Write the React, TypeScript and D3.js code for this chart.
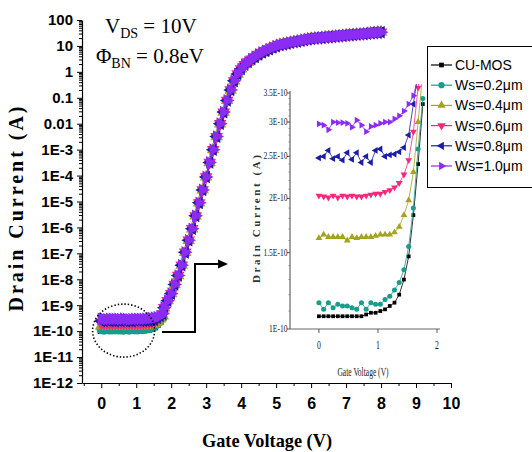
import React, { useEffect, useRef } from 'react';
import * as d3 from 'd3';

// low-voltage sweep (inset + flat part of the main curve), V
const insetVoltage = [0, 0.08, 0.16, 0.24, 0.32, 0.4, 0.48, 0.56, 0.64, 0.72, 0.8, 0.88, 0.96, 1.04, 1.12, 1.2, 1.28, 1.36, 1.44, 1.52, 1.6, 1.68, 1.76];

// leakage currents, in units of 1E-10 A
const cuMos = [1.07, 1.07, 1.07, 1.07, 1.07, 1.07, 1.07, 1.07, 1.07, 1.07, 1.08, 1.09, 1.09, 1.1, 1.11, 1.13, 1.15, 1.2, 1.3, 1.47, 1.83, 2.4, 3.3];
const ws02 = [1.15, 1.11, 1.15, 1.12, 1.14, 1.13, 1.13, 1.12, 1.11, 1.15, 1.11, 1.15, 1.14, 1.14, 1.17, 1.19, 1.23, 1.28, 1.37, 1.55, 1.9, 2.6, 3.4];
const ws04 = [1.62, 1.65, 1.63, 1.63, 1.63, 1.63, 1.6, 1.63, 1.62, 1.63, 1.63, 1.63, 1.64, 1.65, 1.65, 1.65, 1.67, 1.72, 1.83, 1.98, 2.3, 3.0, 3.9];
const ws06 = [2.03, 2.02, 2.01, 2.03, 2.01, 2.03, 2.02, 2.03, 2.02, 2.02, 2.03, 2.04, 2.05, 2.05, 2.07, 2.09, 2.12, 2.17, 2.27, 2.45, 2.85, 3.6, 4.6];
const ws08 = [2.48, 2.5, 2.58, 2.47, 2.5, 2.45, 2.55, 2.46, 2.55, 2.42, 2.5, 2.42, 2.58, 2.6, 2.5, 2.52, 2.53, 2.56, 2.62, 2.8, 3.3, 3.9, 4.6];
const ws10 = [2.97, 2.95, 2.88, 3.0, 2.99, 2.99, 2.98, 2.92, 3.03, 2.95, 2.85, 2.93, 2.95, 2.98, 3.0, 3.0, 3.05, 3.1, 3.18, 3.3, 3.45, 3.8, 4.8];

// above threshold all devices share the same curve (1.8 V .. 8.0 V, 0.1 V step)
const riseVoltage = d3.range(18, 81).map(d => d / 10);
const riseCurrent = [
  8e-10, 1.5e-9, 2.8e-9, 6.3e-9, 1.4e-8, 3.5e-8, 1.1e-7, 3.2e-7, 8.9e-7, 2.8e-6,
  8.9e-6, 2.8e-5, 8.9e-5, 3.2e-4, 1e-3, 3.2e-3, 1e-2, 2.8e-2, 7.9e-2, 0.2,
  0.45, 0.83, 1.3, 1.9, 2.4, 3.1, 3.8, 4.7, 5.6, 6.5,
  7.6, 8.7, 9.8, 11, 11.7, 12.6, 13.5, 14.5, 15.1, 16.2,
  17, 18.2, 19, 20, 20.4, 20.9, 21.9, 22.4, 22.9, 24,
  24.5, 25.1, 26.3, 26.9, 27.5, 28.2, 28.8, 29.5, 30.2, 31.6,
  32.4, 33.1, 33.9,
];

const seriesNames = ['CU-MOS', 'Ws=0.2μm', 'Ws=0.4μm', 'Ws=0.6μm', 'Ws=0.8μm', 'Ws=1.0μm'];
const seriesLeak = [cuMos, ws02, ws04, ws06, ws08, ws10];
const seriesColors = ['#000000', '#189c8c', '#a3a31c', '#f5287c', '#1c1ca6', '#8b2cf5'];
const seriesSymbols = [d3.symbolSquare, d3.symbolCircle, d3.symbolTriangle, d3.symbolTriangle, d3.symbolTriangle, d3.symbolTriangle];
const seriesRotate = [0, 0, 0, 180, -90, 90];

const yTicks = [1e2, 1e1, 1, 1e-1, 1e-2, 1e-3, 1e-4, 1e-5, 1e-6, 1e-7, 1e-8, 1e-9, 1e-10, 1e-11, 1e-12];
const yTickLabels = ['100', '10', '1', '0.1', '0.01', '1E-3', '1E-4', '1E-5', '1E-6', '1E-7', '1E-8', '1E-9', '1E-10', '1E-11', '1E-12'];
const xTicks = [0, 1, 2, 3, 4, 5, 6, 7, 8, 9, 10];

const insetYTicks = [1e-10, 1.5e-10, 2e-10, 2.5e-10, 3e-10, 3.5e-10];
const insetYLabels = ['1E-10', '1.5E-10', '2E-10', '2.5E-10', '3E-10', '3.5E-10'];
const insetXTicks = [0, 1, 2];

function App() {
  const ref = useRef<SVGSVGElement>(null);

  useEffect(() => {
    drawChart();
  }, []);

  function drawChart() {
    const svg = d3.select(ref.current);
    svg.selectAll('*').remove();

    const x = d3.scaleLinear().domain([-0.55, 10]).range([82, 451]);
    const y = d3.scaleLog().domain([1e-12, 100]).range([383, 20]);

    const sym = (i: number, size: number) => d3.symbol(seriesSymbols[i], size)();

    // ---- main axes
    const minorY: number[] = [];
    for (let e = -12; e < 2; e++) for (let m = 2; m <= 9; m++) minorY.push(m * Math.pow(10, e));

    const yAx = svg.append('g').attr('transform', 'translate(82,0)');
    yAx.call(d3.axisLeft(y).tickValues(minorY).tickFormat(() => '').tickSize(3).tickSizeOuter(0));
    yAx.call(g => g.select('.domain').remove());
    const yAx2 = svg.append('g').attr('transform', 'translate(82,0)');
    yAx2.call(d3.axisLeft(y).tickValues(yTicks).tickFormat((d, i) => yTickLabels[i]).tickSize(5).tickSizeOuter(0).tickPadding(4));
    yAx2.selectAll('text').attr('font-family', 'Liberation Sans, Arial').attr('font-weight', 'bold').attr('font-size', 15).attr('fill', '#000');
    svg.selectAll('.tick line').attr('stroke', '#000');

    const xAx = svg.append('g').attr('transform', 'translate(0,383)');
    xAx.call(d3.axisBottom(x).tickValues(d3.range(-0.5, 10, 1)).tickFormat(() => '').tickSize(3).tickSizeOuter(0));
    xAx.call(g => g.select('.domain').remove());
    const xAx2 = svg.append('g').attr('transform', 'translate(0,383)');
    xAx2.call(d3.axisBottom(x).tickValues(xTicks).tickFormat(d3.format('d')).tickSize(5).tickSizeOuter(0).tickPadding(10));
    xAx2.selectAll('text').attr('font-family', 'Liberation Sans, Arial').attr('font-weight', 'bold').attr('font-size', 16).attr('fill', '#000');
    svg.selectAll('.domain').attr('stroke', '#000').attr('stroke-width', 1.2);

    // axis titles
    svg.append('text')
      .attr('transform', 'translate(23,209) rotate(-90)')
      .attr('text-anchor', 'middle')
      .attr('font-family', 'Liberation Serif, Times New Roman')
      .attr('font-weight', 'bold')
      .attr('font-size', 20)
      .attr('textLength', 205)
      .attr('lengthAdjust', 'spacing')
      .text('Drain Current (A)');
    svg.append('text')
      .attr('x', 267)
      .attr('y', 447)
      .attr('text-anchor', 'middle')
      .attr('font-family', 'Liberation Serif, Times New Roman')
      .attr('font-weight', 'bold')
      .attr('font-size', 19)
      .attr('textLength', 130)
      .attr('lengthAdjust', 'spacingAndGlyphs')
      .text('Gate Voltage (V)');

    // V_DS and barrier height
    const t1 = svg.append('text').attr('x', 105).attr('y', 33)
      .attr('font-family', 'Liberation Serif, Times New Roman').attr('font-size', 21);
    t1.append('tspan').text('V');
    t1.append('tspan').attr('font-size', 14).attr('dy', 5).text('DS');
    t1.append('tspan').attr('dy', -5).text(' = 10V');
    const t2 = svg.append('text').attr('x', 96).attr('y', 63)
      .attr('font-family', 'Liberation Serif, Times New Roman').attr('font-size', 21);
    t2.append('tspan').text('Φ');
    t2.append('tspan').attr('font-size', 14).attr('dy', 5).text('BN');
    t2.append('tspan').attr('dy', -5).text(' = 0.8eV');

    // ---- main series
    const mainData = seriesLeak.map(leak =>
      insetVoltage.map((v, i) => ({ v, c: leak[i] * 1e-10 }))
        .concat(riseVoltage.map((v, i) => ({ v, c: riseCurrent[i] })))
    );
    const mainLine = d3.line<{ v: number; c: number }>().x(d => x(d.v)).y(d => y(d.c));
    mainData.forEach((pts, s) => {
      svg.append('path').attr('d', mainLine(pts)).attr('fill', 'none')
        .attr('stroke', seriesColors[s]).attr('stroke-width', 1.5);
      svg.append('g').selectAll('path').data(pts).enter().append('path')
        .attr('d', sym(s, s === 0 ? 50 : 70))
        .attr('transform', d => `translate(${x(d.v)},${y(d.c)}) rotate(${seriesRotate[s]})`)
        .attr('fill', seriesColors[s]);
    });

    // callout ellipse + arrow
    svg.append('ellipse')
      .attr('cx', x(0.64)).attr('cy', y(1.05e-10)).attr('rx', 31).attr('ry', 26.5)
      .attr('fill', 'none').attr('stroke', '#000').attr('stroke-width', 1.6)
      .attr('stroke-dasharray', '1.4,2');
    svg.append('path')
      .attr('d', 'M162,332 H195 V264 H219')
      .attr('fill', 'none').attr('stroke', '#000').attr('stroke-width', 2);
    svg.append('path').attr('d', 'M218,259.5 L228,264 L218,268.5 Z').attr('fill', '#000');

    // ---- inset
    const ix = d3.scaleLinear().domain([-0.49, 2]).range([290, 437]);
    const iy = d3.scaleLog().domain([1e-10, 3.5e-10]).range([329, 93]);

    const defs = svg.append('defs');
    defs.append('clipPath').attr('id', 'insetClip').append('rect')
      .attr('x', 290).attr('y', 84).attr('width', 150).attr('height', 246);

    const iMinor: number[] = d3.range(11, 35).map(d => d * 1e-11);
    svg.append('g').selectAll('line').data(iMinor).enter().append('line')
      .attr('x1', 288.5).attr('x2', 290).attr('y1', d => iy(d)).attr('y2', d => iy(d))
      .attr('stroke', '#777').attr('stroke-width', 0.8);
    svg.append('g').selectAll('line').data(insetYTicks).enter().append('line')
      .attr('x1', 287).attr('x2', 290).attr('y1', d => iy(d)).attr('y2', d => iy(d))
      .attr('stroke', '#555').attr('stroke-width', 1);
    svg.append('line').attr('x1', 290).attr('x2', 290).attr('y1', 91).attr('y2', 329)
      .attr('stroke', '#666').attr('stroke-width', 1.2);
    svg.append('line').attr('x1', 290).attr('x2', 440).attr('y1', 329).attr('y2', 329)
      .attr('stroke', '#666').attr('stroke-width', 1.2);
    svg.append('g').selectAll('line').data(insetXTicks).enter().append('line')
      .attr('x1', d => ix(d)).attr('x2', d => ix(d)).attr('y1', 329).attr('y2', 333)
      .attr('stroke', '#555').attr('stroke-width', 1);

    insetYTicks.forEach((v, i) => {
      svg.append('g').attr('transform', `translate(287.5,${iy(v) + 3}) scale(0.72,1)`)
        .append('text').attr('text-anchor', 'end')
        .attr('font-family', 'Liberation Serif, Times New Roman').attr('font-size', 10.5)
        .attr('fill', '#222').text(insetYLabels[i]);
    });
    insetXTicks.forEach(v => {
      svg.append('g').attr('transform', `translate(${ix(v)},349) scale(0.6,1)`)
        .append('text').attr('text-anchor', 'middle')
        .attr('font-family', 'Liberation Serif, Times New Roman').attr('font-size', 13)
        .attr('fill', '#222').text(String(v));
    });
    svg.append('g').attr('transform', 'translate(363,376) scale(0.58,1)')
      .append('text').attr('text-anchor', 'middle')
      .attr('font-family', 'Liberation Serif, Times New Roman').attr('font-size', 13)
      .attr('fill', '#222').text('Gate Voltage (V)');
    svg.append('text')
      .attr('transform', 'translate(260,219) rotate(-90)')
      .attr('text-anchor', 'middle')
      .attr('font-family', 'Liberation Serif, Times New Roman')
      .attr('font-weight', 'bold').attr('font-size', 11).attr('fill', '#333')
      .attr('textLength', 128).attr('lengthAdjust', 'spacing')
      .text('Drain Current (A)');

    const inset = svg.append('g').attr('clip-path', 'url(#insetClip)');
    const insetLine = d3.line<number>().x((d, i) => ix(insetVoltage[i])).y(d => iy(d * 1e-10));
    seriesLeak.forEach((leak, s) => {
      inset.append('path').attr('d', insetLine(leak)).attr('fill', 'none')
        .attr('stroke', seriesColors[s]).attr('stroke-width', 0.8);
      inset.append('g').selectAll('path').data(leak).enter().append('path')
        .attr('d', sym(s, s === 0 ? 14 : 20))
        .attr('transform', (d, i) => `translate(${ix(insetVoltage[i])},${iy(d * 1e-10)}) rotate(${seriesRotate[s]})`)
        .attr('fill', seriesColors[s]);
    });

    // ---- legend
    svg.append('rect').attr('x', 427.5).attr('y', 46.5).attr('width', 120).attr('height', 141)
      .attr('fill', '#fff').attr('stroke', '#000').attr('stroke-width', 1);
    seriesNames.forEach((name, s) => {
      const ly = 65 + s * 20.2;
      svg.append('line').attr('x1', 431).attr('x2', 452).attr('y1', ly).attr('y2', ly)
        .attr('stroke', seriesColors[s]).attr('stroke-width', 1.2);
      svg.append('path').attr('d', sym(s, s === 0 ? 22 : 30))
        .attr('transform', `translate(441.5,${ly}) rotate(${seriesRotate[s]})`)
        .attr('fill', seriesColors[s]);
      svg.append('text').attr('x', 455).attr('y', ly + 5)
        .attr('font-family', 'Liberation Sans, Arial').attr('font-size', 14)
        .attr('fill', '#000').text(name);
    });
  }

  return (
    <svg
      ref={ref}
      width={532}
      height={452}
      style={{ position: 'absolute', left: 0, top: 0, background: '#fff' }}
    />
  );
}

export default App;
